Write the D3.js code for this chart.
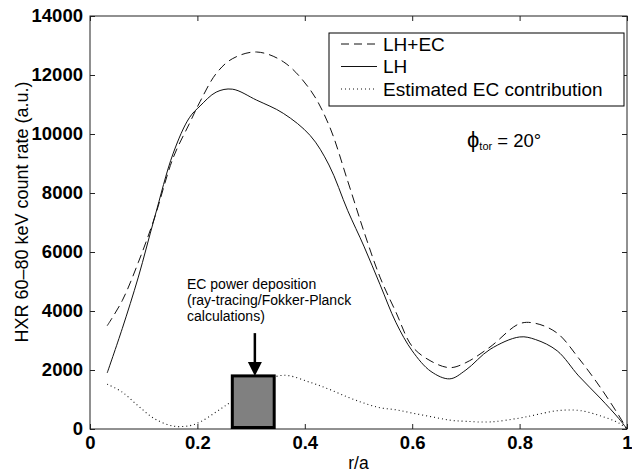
<!DOCTYPE html>
<html>
<head>
<meta charset="utf-8">
<script src="https://cdn.jsdelivr.net/npm/d3@7"></script>
<style>
  body { margin: 0; background: #fff; }
  svg { display: block; font-family: "Liberation Sans", Arial, sans-serif; }
</style>
</head>
<body>
<div id="chart"></div>
<script>
// r/a sample positions
const rVals = [0.032, 0.06, 0.09, 0.12, 0.155, 0.185, 0.205, 0.235, 0.265, 0.31,
  0.36, 0.41, 0.445, 0.48, 0.51, 0.54, 0.57, 0.60, 0.635, 0.67,
  0.70, 0.745, 0.80, 0.83, 0.87, 0.91, 0.95, 0.985, 1.0];

const lhEc = [3500, 4350, 5650, 7150, 9200, 10350, 11100, 12050, 12550, 12780,
  12450, 11500, 10300, 8400, 6700, 5150, 3950, 2800, 2300, 2080,
  2250, 2780, 3570, 3580, 3250, 2400, 1420, 450, 0];

const lh = [1900, 3400, 5150, 7150, 9350, 10550, 10950, 11420, 11520, 11150,
  10700, 9950, 8950, 7400, 6200, 4900, 3600, 2650, 1950, 1700,
  2000, 2700, 3120, 3030, 2650, 1800, 1050, 350, 0];

const ecContrib = [1520, 1250, 780, 350, 100, 110, 240, 580, 950, 1500,
  1820, 1580, 1350, 1080, 880, 720, 650, 540, 420, 300,
  260, 240, 370, 480, 620, 630, 450, 200, 0];

const xTicks = [0, 0.2, 0.4, 0.6, 0.8, 1];
const yTicks = [0, 2000, 4000, 6000, 8000, 10000, 12000, 14000];

// EC power deposition box and arrow
const depoR = [0.265, 0.343];
const depoTop = 1800;
const arrowR = 0.307;
const arrowFrom = 3250;

const seriesNames = ["LH+EC", "LH", "Estimated EC contribution"];
const seriesDash = ["9,5", null, "1,3"];

const W = 632, H = 473;
const margin = {top: 16, left: 90, right: 5, bottom: 44};

const svg = d3.select("#chart").append("svg")
  .attr("width", W).attr("height", H);

const x = d3.scaleLinear().domain([0, 1]).range([margin.left, W - margin.right]);
const y = d3.scaleLinear().domain([0, 14000]).range([H - margin.bottom, margin.top]);

// frame
svg.append("rect")
  .attr("x", x(0)).attr("y", y(14000))
  .attr("width", x(1) - x(0)).attr("height", y(0) - y(14000))
  .attr("fill", "none").attr("stroke", "#222").attr("stroke-width", 1);

// axes with inward ticks
const axFont = g => g.selectAll("text")
  .attr("font-size", 18.5).attr("fill", "#000").attr("font-weight", "bold")
  .attr("font-family", "Liberation Sans, Arial, sans-serif");

svg.append("g").attr("transform", `translate(0,${y(0)})`)
  .call(d3.axisBottom(x).tickValues(xTicks).tickFormat(d3.format("")).tickSizeInner(-5).tickSizeOuter(0).tickPadding(7))
  .call(g => g.select(".domain").remove())
  .call(axFont);
svg.append("g").attr("transform", `translate(0,${y(14000)})`)
  .call(d3.axisTop(x).tickValues(xTicks).tickFormat("").tickSizeInner(-5).tickSizeOuter(0))
  .call(g => g.select(".domain").remove());
svg.append("g").attr("transform", `translate(${x(0)},0)`)
  .call(d3.axisLeft(y).tickValues(yTicks).tickFormat(d3.format("d")).tickSizeInner(-5).tickSizeOuter(0).tickPadding(7))
  .call(g => g.select(".domain").remove())
  .call(axFont);
svg.append("g").attr("transform", `translate(${x(1)},0)`)
  .call(d3.axisRight(y).tickValues(yTicks).tickFormat("").tickSizeInner(-5).tickSizeOuter(0))
  .call(g => g.select(".domain").remove());
svg.selectAll(".tick line").attr("stroke", "#222");

// axis titles
svg.append("text")
  .attr("x", (x(0) + x(1)) / 2).attr("y", 469)
  .attr("text-anchor", "middle").attr("font-size", 17.5)
  .text("r/a");
svg.append("text")
  .attr("transform", `translate(28,${212}) rotate(-90)`)
  .attr("text-anchor", "middle").attr("font-size", 18)
  .text("HXR 60\u201380 keV count rate (a.u.)");

// curves
const line = d3.line()
  .x((d, i) => x(rVals[i]))
  .y(d => y(d))
  .curve(d3.curveCatmullRom);

[lhEc, lh, ecContrib].forEach((s, i) => {
  svg.append("path")
    .datum(s)
    .attr("d", line)
    .attr("fill", "none")
    .attr("stroke", "#111")
    .attr("stroke-width", i === 2 ? 1.1 : 1)
    .attr("stroke-dasharray", seriesDash[i]);
});

// deposition box
svg.append("rect")
  .attr("x", x(depoR[0])).attr("y", y(depoTop))
  .attr("width", x(depoR[1]) - x(depoR[0]))
  .attr("height", y(0) - y(depoTop) - 1.5)
  .attr("fill", "#808080").attr("stroke", "#000").attr("stroke-width", 3);

// arrow
svg.append("line")
  .attr("x1", x(arrowR)).attr("x2", x(arrowR))
  .attr("y1", y(arrowFrom)).attr("y2", y(depoTop) - 12)
  .attr("stroke", "#000").attr("stroke-width", 2.5);
svg.append("path")
  .attr("d", `M${x(arrowR) - 7},${y(depoTop) - 14} L${x(arrowR) + 7},${y(depoTop) - 14} L${x(arrowR)},${y(depoTop)} Z`)
  .attr("fill", "#000");

// annotation text
const note = ["EC power deposition", "(ray-tracing/Fokker-Planck", "calculations)"];
const noteY = [289, 305, 321];
svg.append("g").selectAll("text").data(note).join("text")
  .attr("x", 187).attr("y", (d, i) => noteY[i])
  .attr("font-size", 14)
  .text(d => d);

// phi label
const phi = svg.append("text").attr("x", 467).attr("y", 147).attr("font-size", 18.5);
phi.append("tspan").text("\u03d5").attr("font-size", 22);
phi.append("tspan").text("tor").attr("font-size", 11).attr("dy", 3);
phi.append("tspan").text(" = 20\u00b0").attr("dy", -3);

// legend
const lg = svg.append("g");
lg.append("rect")
  .attr("x", 329).attr("y", 33).attr("width", 295).attr("height", 73)
  .attr("fill", "#fff").attr("stroke", "#000").attr("stroke-width", 1);
seriesNames.forEach((n, i) => {
  const ly = 44 + i * 22.5;
  lg.append("line")
    .attr("x1", 341).attr("x2", 377).attr("y1", ly).attr("y2", ly)
    .attr("stroke", "#111").attr("stroke-width", 1)
    .attr("stroke-dasharray", seriesDash[i] === "9,5" ? "8,5" : seriesDash[i]);
  lg.append("text")
    .attr("x", 383).attr("y", ly + 6.5)
    .attr("font-size", 19)
    .text(n);
});
</script>
</body>
</html>
